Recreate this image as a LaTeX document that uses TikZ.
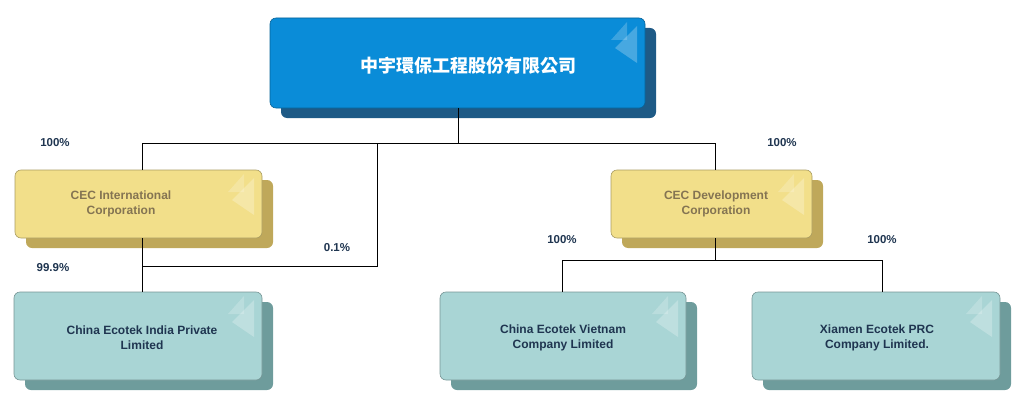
\documentclass[tikz,border=0pt]{standalone}
\usepackage{fontspec}
\setmainfont{Liberation Sans}
\newfontfamily\cjk{Noto Sans CJK TC}
\begin{document}
\begin{tikzpicture}[x=1pt,y=-1pt,
  box/.style={rounded corners=6pt,draw=#1!60!black,line width=0.6pt},
  lbl/.style={font=\bfseries\fontsize{11}{13}\selectfont,text=black!20!blue!30!black!90},
  ln/.style={line width=0.8pt,black}]
\definecolor{topf}{HTML}{0A8CD8}\definecolor{tops}{HTML}{1E5A86}
\definecolor{yelf}{HTML}{F2DF8A}\definecolor{yels}{HTML}{BFA85A}
\definecolor{tlf}{HTML}{A9D5D5}\definecolor{tls}{HTML}{6E9C9C}
\definecolor{pct}{HTML}{1F3550}
\useasboundingbox (0,0) rectangle (1024,412);
\newcommand\mybox[7]{% name x1 y1 x2 y2 fill shadow
  \fill[#7,rounded corners=6pt] (#2+11,#3+10) rectangle (#4+11,#5+10);
  \draw[#6!70!black,fill=#6,rounded corners=6pt,line width=0.6pt] (#2,#3) rectangle (#4,#5);
  \fill[white,opacity=0.25] (#4-8,#3+8) -- (#4-30,#3+30) -- (#4-8,#3+45) -- cycle;
  \fill[white,opacity=0.2] (#4-18,#3+4) -- (#4-34,#3+22) -- (#4-18,#3+22) -- cycle;
  \coordinate (#1n) at ({(#2+#4)/2},#3);
  \coordinate (#1s) at ({(#2+#4)/2},#5);
  \coordinate (#1c) at ({(#2+#4)/2},{(#3+#5)/2});}
\mybox{t}{270}{18}{645}{108}{topf}{tops}
\mybox{a}{15}{170}{262}{238}{yelf}{yels}
\mybox{b}{611}{170}{812}{238}{yelf}{yels}
\mybox{c}{14}{292}{262}{380}{tlf}{tls}
\mybox{d}{440}{292}{686}{380}{tlf}{tls}
\mybox{e}{752}{292}{1000}{380}{tlf}{tls}
\node[text=white,font=\cjk\bfseries\fontsize{18}{20}\selectfont] (tt) at (468,66) {中宇環保工程股份有限公司};
\node[text=black!75!yellow!60!brown,font=\bfseries\fontsize{12}{15}\selectfont,align=center] (at) at (121,204) {CEC International\\Corporation};
\node[text=black!75!yellow!60!brown,font=\bfseries\fontsize{12}{15}\selectfont,align=center] (bt) at (716,204) {CEC Development\\Corporation};
\node[text=pct,font=\bfseries\fontsize{12}{15}\selectfont,align=center] (ct) at (142,338) {China Ecotek India Private\\Limited};
\node[text=pct,font=\bfseries\fontsize{12}{15}\selectfont,align=center] (dt) at (563,338) {China Ecotek Vietnam\\Company Limited};
\node[text=pct,font=\bfseries\fontsize{12}{15}\selectfont,align=center] (et) at (877,338) {Xiamen Ecotek PRC\\Company Limited.};
\coordinate (j1) at (458,143);
\coordinate (jl) at (142,143);\coordinate (jr) at (715,143);
\coordinate (jm) at (377,143);\coordinate (jm2) at (377,266);
\coordinate (jc) at (142,266);
\coordinate (jb) at (715,260);\coordinate (jd) at (562,260);\coordinate (je) at (882,260);
\draw[ln] (458,108) -- (j1);
\draw[ln] (jl) -- (jr);
\draw[ln] (jl) -- (142,170);
\draw[ln] (jr) -- (715,170);
\draw[ln] (jm) -- (jm2) -- (jc);
\draw[ln] (142,238) -- (142,292);
\draw[ln] (715,238) -- (jb);
\draw[ln] (jd) -- (je);
\draw[ln] (jd) -- (562,292);
\draw[ln] (je) -- (882,292);
\foreach \n/\x/\y/\t in {p1/55/143/100\%,p2/782/143/100\%,p3/337/248/0.1\%,p4/53/268/99.9\%,p5/562/240/100\%,p6/882/240/100\%}
  \node[text=pct,font=\bfseries\fontsize{11.5}{13}\selectfont] (\n) at (\x,\y) {\t};
\end{tikzpicture}
\end{document}
